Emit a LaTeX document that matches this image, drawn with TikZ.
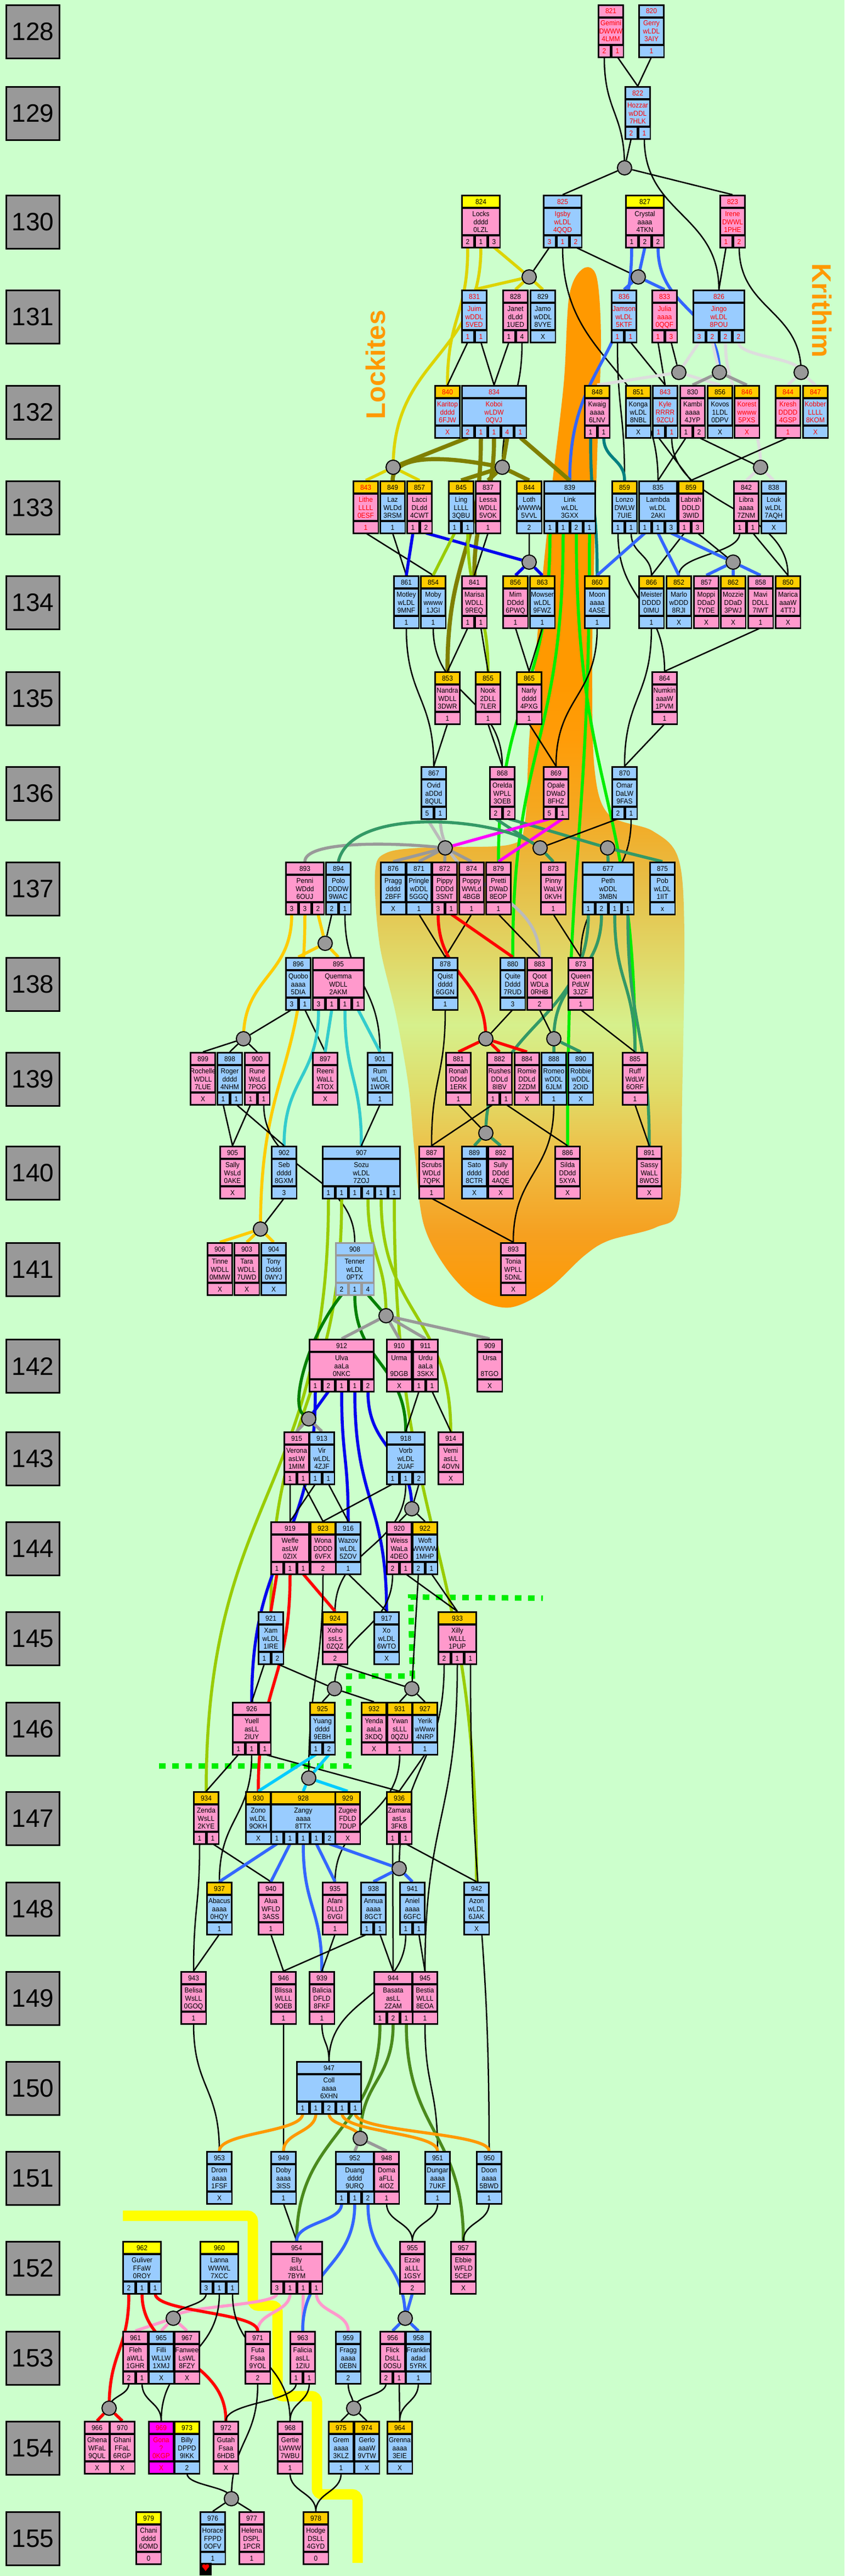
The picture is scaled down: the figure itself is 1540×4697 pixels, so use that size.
\documentclass[tikz,border=0pt]{standalone}
\usepackage{fontspec}
\setmainfont{Liberation Sans}
\newfontfamily\cardfont[FakeStretch=0.92]{Liberation Sans}
\usetikzlibrary{calc}

\definecolor{bgc}{HTML}{CCFFCC}
\definecolor{cpk}{HTML}{FF99CC}
\definecolor{cbl}{HTML}{99CCFF}
\definecolor{cyl}{HTML}{FFFF00}
\definecolor{cgd}{HTML}{FFCC00}
\definecolor{cmg}{HTML}{FF00FF}
\definecolor{yrgray}{HTML}{999999}
\definecolor{ungray}{HTML}{999999}
\definecolor{lkyel}{HTML}{DDD400}
\definecolor{lolive}{HTML}{808000}
\definecolor{lblueA}{HTML}{3366FF}
\definecolor{lblueB}{HTML}{0000EE}
\definecolor{lgreen}{HTML}{00EE00}
\definecolor{lteal}{HTML}{008080}
\definecolor{lsea}{HTML}{339966}
\definecolor{llgray}{HTML}{DDDDDD}
\definecolor{lgray}{HTML}{999999}
\definecolor{lsilver}{HTML}{BBBBBB}
\definecolor{lmag}{HTML}{FF00FF}
\definecolor{lgold}{HTML}{FFCC00}
\definecolor{lygreen}{HTML}{99CC00}
\definecolor{lcyanA}{HTML}{33CCCC}
\definecolor{lcyanB}{HTML}{00CCFF}
\definecolor{lred}{HTML}{FF0000}
\definecolor{ldgreen}{HTML}{008000}
\definecolor{logreen}{HTML}{4A8A1C}
\definecolor{lorange}{HTML}{FF9900}
\definecolor{lpink}{HTML}{FF99CC}
\definecolor{tribeor}{HTML}{FF9900}
\definecolor{dotgreen}{HTML}{00EE00}
\definecolor{bo1}{HTML}{FF9900}
\definecolor{bo2}{HTML}{F6A020}
\definecolor{bo3}{HTML}{EEC048}
\definecolor{bo4}{HTML}{E0DC68}
\definecolor{bo5}{HTML}{D6F08C}
\definecolor{bo6}{HTML}{E0D868}
\definecolor{bo7}{HTML}{E8BC44}
\definecolor{bo8}{HTML}{F5A820}
\definecolor{bo9}{HTML}{FF9C08}

\pgfdeclareverticalshading{blobsh}{100bp}{color(0bp)=(bo1); color(25bp)=(bo1); color(28.6bp)=(bo2); color(32.5bp)=(bo3); color(35.4bp)=(bo4); color(38.6bp)=(bo5); color(41.8bp)=(bo6); color(45.7bp)=(bo7); color(48.9bp)=(bo8); color(52.3bp)=(bo9); color(55bp)=(bo1); color(100bp)=(bo1)}

\pgfdeclarelayer{blob}
\pgfdeclarelayer{wires}
\pgfsetlayers{blob,wires,main}

\tikzset{
  wire/.style={line width=2.5pt,black},
  lin/.style={line width=5.5pt,draw=#1},
  fat/.style={line width=7.5pt,draw=#1},
  vv/.style={to path={.. controls ($(\tikztostart)!0.5!(\tikztostart|-\tikztotarget)$)
     and ($(\tikztotarget)!0.5!(\tikztotarget|-\tikztostart)$) .. (\tikztotarget.center)}},
  uni/.style={circle,draw=black,line width=2pt,fill=ungray,minimum size=26pt,inner sep=0pt},
  yearbox/.style={draw=black,line width=3pt,fill=yrgray,minimum width=97pt,minimum height=97pt,inner sep=0pt,font=\fontsize{46}{46}\selectfont},
  ctxt/.style={inner sep=0pt,anchor=base,font=\cardfont\fontsize{13}{13}\selectfont},
  tribe/.style={text=tribeor,inner sep=0pt,font=\fontsize{49}{49}\selectfont\bfseries},
}

% one card: [opts]{name}{x}{year}{number}{line 2}{line 3}{cells}
\newcount\ncell
\pgfkeys{/card/.cd,
  h/.store in=\cH, b/.store in=\cB, c/.store in=\cC, t/.store in=\cT, e/.store in=\cE}
\newcommand\card[8][]{%
  \def\cH{}\def\cB{cbl}\def\cC{}\def\cT{black}\def\cE{black}%
  \pgfkeys{/card/.cd,#1}%
  \ifx\cH\empty\let\cH\cB\fi
  \ifx\cC\empty\let\cC\cB\fi
  \global\ncell=0
  \foreach \q in {#8} {\global\advance\ncell by 1}%
  \pgfmathsetmacro\cw{24*max(2,\the\ncell)}%
  \pgfmathsetmacro\cu{\cw/\the\ncell}%
  \edef\cy{\csname yr#4\endcsname}%
  \fill[\cE] (#3,\cy) rectangle ({#3+\cw},{\cy+98});
  \fill[\cH] ({#3+3},{\cy+3}) rectangle ({#3+\cw-3},{\cy+22});
  \fill[\cB] ({#3+3},{\cy+26}) rectangle ({#3+\cw-3},{\cy+72});
  \node[ctxt,text=\cT] at ({#3+\cw/2},{\cy+17}) {#5};
  \node[ctxt,text=\cT] at ({#3+\cw/2},{\cy+39}) {#2};
  \node[ctxt,text=\cT] at ({#3+\cw/2},{\cy+54}) {#6};
  \node[ctxt,text=\cT] at ({#3+\cw/2},{\cy+68}) {#7};
  \coordinate (#2) at ({#3+\cw/2},\cy);
  \foreach \q [count=\i] in {#8} {%
    \fill[\cC] ({#3+(\i-1)*\cu+2.5},{\cy+76}) rectangle ({#3+\i*\cu-2.5},{\cy+95});
    \node[ctxt,text=\cT] at ({#3+(\i-0.5)*\cu},{\cy+90}) {\q};
    \coordinate (#2-\i) at ({#3+(\i-0.5)*\cu},{\cy+96});
  }%
}

\begin{document}
\begin{tikzpicture}[x=1pt,y=-1pt]
%%%%% START %%%%%
\useasboundingbox (0,0) rectangle (1540,4697);

\begin{pgfonlayer}{blob}
  \fill[bgc] (0,0) rectangle (1540,4697);
  \shade[shading=blobsh] plot[smooth cycle,tension=0.55] coordinates {
    (1063,490) (1088,505) (1096,620) (1090,800) (1084,1000) (1080,1200) (1084,1400)
    (1110,1485) (1190,1515) (1237,1565) (1248,1700) (1244,2000) (1238,2200) (1196,2238)
    (1110,2262) (1065,2290) (1000,2350) (930,2384) (865,2365) (812,2310) (772,2230)
    (756,2100) (745,1980) (722,1850) (692,1720) (684,1590) (705,1555) (780,1545)
    (930,1540) (957,1500) (965,1350) (985,1100) (1005,900) (1028,700) (1038,540)};
  \draw[cyl,line width=19pt,rounded corners=10pt] (224,4040) -- (461,4040) -- (461,4204)
    -- (506,4204) -- (506,4369) -- (578,4369) -- (578,4548) -- (652,4548) -- (652,4673);
  \draw[dotgreen,line width=10pt,dash pattern=on 12pt off 12pt] (290,3220) -- (636,3220)
    -- (636,3056) -- (752,3056) -- (749,2912) -- (990,2914);
\end{pgfonlayer}

% year column
\foreach \yy/\yt in {128/8,129/157,130/355,131/528,132/702,133/876,134/1049,135/1224,
  136/1397,137/1571,138/1745,139/1918,140/2089,141/2265,142/2441,143/2610,144/2774,
  145/2938,146/3103,147/3266,148/3431,149/3594,150/3758,151/3922,152/4086,153/4250,
  154/4414,155/4579} {
  \expandafter\xdef\csname yr\yy\endcsname{\yt}
  \node[yearbox] (y\yy) at (60,\yt+50) {\yy};
}

\node[tribe,rotate=90] (lockites) at (685,665) {Lockites};
\node[tribe,rotate=-90] (krithim) at (1499,566) {Krithim};

% 128 - 131
\card[b=cpk,t=red]{Gemini}{1090}{128}{821}{DWWW}{4LMM}{2,1}
\card[t=red]{Gerry}{1164}{128}{820}{wLDL}{3AIY}{1}
\card[t=red]{Hozzar}{1139}{129}{822}{wDDL}{7HLK}{2,1}
\card[h=cyl,b=cpk]{Locks}{841}{130}{824}{dddd}{0LZL}{2,1,3}
\card[t=red]{Igsby}{990}{130}{825}{wLDL}{4QQD}{3,1,2}
\card[h=cyl,b=cpk]{Crystal}{1140}{130}{827}{aaaa}{4TKN}{1,2,2}
\card[b=cpk,t=red]{Irene}{1312}{130}{823}{DWWL}{1PHE}{1,2}
\card[t=red]{Juim}{841}{131}{831}{wDDL}{5VED}{1,1}
\card[b=cpk]{Janet}{916}{131}{828}{dLdd}{1UED}{1,4}
\card{Jamo}{966}{131}{829}{wDDL}{8VYE}{X}
\card[t=red]{Jamson}{1114}{131}{836}{wLDL}{5KTF}{1,1}
\card[b=cpk,t=red]{Julia}{1188}{131}{833}{aaaa}{0QQF}{1,3}
\card[t=red]{Jingo}{1263}{131}{826}{wLDL}{8POU}{3,2,2,2}
% 132
\card[h=cgd,t=red]{Karitop}{792}{132}{840}{dddd}{6FJW}{X}
\card[t=red]{Koboi}{841}{132}{834}{wLDW}{0QVJ}{2,1,1,4,1}
\card[h=cgd,b=cpk]{Kwaig}{1065}{132}{848}{aaaa}{6LNV}{1,1}
\card[h=cgd]{Konga}{1140}{132}{851}{wLDL}{8NBL}{X}
\card[t=red]{Kyle}{1189}{132}{843}{RRRR}{9ZCU}{1,1}
\card[b=cpk]{Kambi}{1239}{132}{830}{aaaa}{4JYP}{1,2}
\card[h=cgd]{Kovos}{1289}{132}{856}{1LDL}{0DPV}{X}
\card[h=cgd,b=cpk,t=red]{Korest}{1338}{132}{846}{wwww}{5PXS}{X}
\card[h=cgd,b=cpk,t=red]{Kresh}{1413}{132}{844}{DDDD}{4GSP}{1}
\card[h=cgd,t=red]{Kobber}{1463}{132}{847}{LLLL}{8KOM}{X}
% 133
\card[h=cgd,b=cpk,t=red]{Lithe}{643}{133}{843}{LLLL}{0ESF}{1}
\card[h=cgd]{Laz}{692}{133}{849}{WLDd}{3RSM}{1}
\card[h=cgd,b=cpk]{Lacci}{741}{133}{857}{DLdd}{4CWT}{1,2}
\card[h=cgd]{Ling}{817}{133}{845}{LLLL}{3QBU}{1,1}
\card[b=cpk]{Lessa}{866}{133}{837}{WDLL}{5VOK}{1}
\card[h=cgd]{Loth}{941}{133}{844}{WWWW}{5VVL}{2}
\card{Link}{991}{133}{839}{wLDL}{3GXX}{1,1,2,1}
\card[h=cgd]{Lonzo}{1115}{133}{859}{DWLW}{7UIE}{1,1}
\card{Lambda}{1164}{133}{835}{wLDL}{2AKI}{1,1,3}
\card[h=cgd,b=cpk]{Labrah}{1236}{133}{859}{DDLD}{3WID}{1,3}
\card[b=cpk]{Libra}{1337}{133}{842}{aaaa}{7ZNM}{1,1}
\card{Louk}{1387}{133}{838}{wLDL}{7AQH}{X}
% 134
\card{Motley}{717}{134}{861}{wLDL}{9MNF}{1}
\card[h=cgd]{Moby}{766}{134}{854}{wwww}{1JGI}{1}
\card[b=cpk]{Marisa}{841}{134}{841}{WDLL}{9REQ}{1,1}
\card[h=cgd,b=cpk]{Mim}{916}{134}{856}{DDdd}{6PWQ}{1}
\card[h=cgd]{Mowser}{965}{134}{863}{wLDL}{9FWZ}{1}
\card[h=cgd]{Moon}{1065}{134}{860}{aaaa}{4ASE}{1}
\card[h=cgd]{Meister}{1164}{134}{866}{DDDD}{0IMU}{1}
\card[h=cgd]{Marlo}{1214}{134}{852}{wDDD}{8RJI}{X}
\card[b=cpk]{Moppi}{1264}{134}{857}{DDaD}{7YDE}{X}
\card[h=cgd,b=cpk]{Mozzie}{1313}{134}{862}{DDaD}{3PWJ}{X}
\card[b=cpk]{Mavi}{1363}{134}{858}{DDLL}{7IWT}{1}
\card[h=cgd,b=cpk]{Marica}{1413}{134}{850}{aaaW}{4TTJ}{X}
% 135 - 136
\card[h=cgd,b=cpk]{Nandra}{792}{135}{853}{WDLL}{3DWR}{1}
\card[h=cgd,b=cpk]{Nook}{866}{135}{855}{2DLL}{7LER}{1}
\card[h=cgd,b=cpk]{Narly}{941}{135}{865}{dddd}{4PXG}{1}
\card[b=cpk]{Numkin}{1188}{135}{864}{aaaW}{1PVM}{1}
\card{Ovid}{767}{136}{867}{aDDd}{8QUL}{5,1}
\card[b=cpk]{Orelda}{892}{136}{868}{WPLL}{3OEB}{2,2}
\card[b=cpk]{Opale}{990}{136}{869}{DWaD}{8FHZ}{5,1}
\card{Omar}{1115}{136}{870}{DaLW}{9FAS}{2,1}
% 137
\card[b=cpk]{Penni}{520}{137}{893}{WDdd}{6OUJ}{3,3,2}
\card{Polo}{593}{137}{894}{DDDW}{9WAC}{2,1}
\card{Pragg}{693}{137}{876}{dddd}{2BFF}{X}
\card{Pringle}{740}{137}{871}{wDDL}{5GGQ}{1}
\card[b=cpk]{Pippy}{787}{137}{872}{DDDd}{3SNT}{3,1}
\card[b=cpk]{Poppy}{836}{137}{874}{WWLd}{4BGB}{1}
\card[b=cpk]{Pretti}{885}{137}{879}{DWaD}{8EOP}{1}
\card[b=cpk]{Pinny}{985}{137}{873}{WaLW}{0KVH}{1}
\card{Peth}{1061}{137}{677}{wDDL}{3MBN}{1,2,1,1}
\card{Pob}{1184}{137}{875}{wLDL}{1IIT}{x}
% 138
\card{Quobo}{520}{138}{896}{aaaa}{5DIA}{3,1}
\card[b=cpk]{Quemma}{569}{138}{895}{WDLL}{2AKM}{3,1,1,1}
\card{Quist}{788}{138}{878}{dddd}{6GGN}{1}
\card{Quite}{911}{138}{880}{Dddd}{7RUD}{3}
\card[b=cpk]{Qoot}{960}{138}{883}{WDLa}{0RHB}{2}
\card[b=cpk]{Queen}{1035}{138}{873}{PdLW}{3JZF}{1}
% 139
\card[b=cpk]{Rochelle}{346}{139}{899}{WDLL}{7LUE}{X}
\card{Roger}{395}{139}{898}{dddd}{4NHM}{1,1}
\card[b=cpk]{Rune}{445}{139}{900}{WsLd}{7POG}{1,1}
\card[b=cpk]{Reeni}{569}{139}{897}{WaLL}{4TOX}{X}
\card{Rum}{669}{139}{901}{wLDL}{1WOR}{1}
\card[b=cpk]{Ronah}{812}{139}{881}{DDdd}{1ERK}{1}
\card[b=cpk]{Rushes}{887}{139}{882}{DDLd}{8IBV}{1,1}
\card[b=cpk]{Romie}{937}{139}{884}{DDLd}{2ZDM}{X}
\card{Romeo}{986}{139}{888}{wDDL}{6JLM}{1}
\card{Robbie}{1035}{139}{890}{wDDL}{2OID}{X}
\card[b=cpk]{Ruff}{1134}{139}{885}{WdLW}{6ORF}{1}
% 140 - 141
\card[b=cpk]{Sally}{400}{140}{905}{WsLd}{0AKE}{X}
\card{Seb}{494}{140}{902}{dddd}{8GXM}{3}
\card{Sozu}{587}{140}{907}{wLDL}{7ZOJ}{1,1,1,4,1,1}
\card[b=cpk]{Scrubs}{763}{140}{887}{WDLd}{7QPK}{1}
\card{Sato}{841}{140}{889}{dddd}{8CTR}{X}
\card[b=cpk]{Sully}{889}{140}{892}{DDdd}{4AQE}{X}
\card[b=cpk]{Silda}{1011}{140}{886}{DDdd}{5XYA}{X}
\card[b=cpk]{Sassy}{1160}{140}{891}{WaLL}{8WOS}{X}
\card[b=cpk]{Tinne}{377}{141}{906}{WDLL}{0MMW}{X}
\card[b=cpk]{Tara}{426}{141}{903}{WDLL}{7UWD}{X}
\card{Tony}{475}{141}{904}{Dddd}{0WYJ}{X}
\card[e=lgray]{Tenner}{611}{141}{908}{wLDL}{0PTX}{2,1,4}
\card[b=cpk]{Tonia}{912}{141}{893}{WPLL}{5DNL}{X}
% 142 - 143
\card[b=cpk]{Ulva}{563}{142}{912}{aaLa}{0NKC}{1,2,1,1,2}
\card[b=cpk]{Urma}{704}{142}{910}{}{9DGB}{X}
\card[b=cpk]{Urdu}{752}{142}{911}{aaLa}{3SKX}{1,1}
\card[b=cpk]{Ursa}{869}{142}{909}{}{8TGO}{X}
\card[b=cpk]{Verona}{517}{143}{915}{asLW}{1MIM}{1,1}
\card{Vir}{563}{143}{913}{wLDL}{4ZJF}{1,1}
\card{Vorb}{704}{143}{918}{wLDL}{2UAF}{1,1,2}
\card[b=cpk]{Vemi}{798}{143}{914}{asLL}{4OVN}{X}
% 144 - 145
\card[b=cpk]{Weffe}{493}{144}{919}{asLW}{0ZIX}{1,1,1}
\card[h=cgd,b=cpk]{Wona}{565}{144}{923}{DDDD}{6VFX}{2}
\card{Wazov}{611}{144}{916}{wLDL}{5ZOV}{1}
\card[b=cpk]{Weiss}{704}{144}{920}{WaLa}{4DEO}{2,1}
\card[h=cgd]{Woft}{751}{144}{922}{WWWW}{1MHP}{2,1}
\card{Xam}{470}{145}{921}{wLDL}{1IRE}{1,2}
\card[h=cgd,b=cpk]{Xoho}{587}{145}{924}{ssLs}{0ZQZ}{2}
\card{Xo}{681}{145}{917}{wLDL}{6WTO}{X}
\card[h=cgd,b=cpk]{Xilly}{798}{145}{933}{WLLL}{1PUP}{2,1,1}
% 146 - 147
\card[b=cpk]{Yuell}{423}{146}{926}{asLL}{2IUY}{1,1,1}
\card[h=cgd]{Yuang}{564}{146}{925}{dddd}{9EBH}{1,2}
\card[h=cgd,b=cpk]{Yenda}{658}{146}{932}{aaLa}{3KDQ}{X}
\card[h=cgd,b=cpk]{Ywan}{705}{146}{931}{sLLL}{0QZU}{1}
\card[h=cgd]{Yerik}{751}{146}{927}{wWww}{4NRP}{1}
\card[h=cgd,b=cpk]{Zenda}{352}{147}{934}{WsLL}{2KYE}{1,1}
\card[h=cgd]{Zono}{447}{147}{930}{wLDL}{9OKH}{X}
\card[h=cgd]{Zangy}{493}{147}{928}{aaaa}{8TTX}{1,1,1,1,2}
\card[h=cgd,b=cpk]{Zugee}{610}{147}{929}{FDLD}{7DUP}{X}
\card[h=cgd,b=cpk]{Zamara}{704}{147}{936}{asLs}{3FKB}{1,1}
% 148 - 149
\card[h=cgd]{Abacus}{376}{148}{937}{aaaa}{0HQY}{1}
\card[b=cpk]{Alua}{470}{148}{940}{WFLD}{3ASS}{1}
\card[b=cpk]{Afani}{587}{148}{935}{DLLD}{6VGI}{1}
\card{Annua}{657}{148}{938}{aaaa}{8GCT}{1,1}
\card{Aniel}{728}{148}{941}{aaaa}{6GFC}{1,1}
\card{Azon}{845}{148}{942}{wLDL}{6JAK}{X}
\card[b=cpk]{Belisa}{329}{149}{943}{WsLL}{0GOQ}{1}
\card[b=cpk]{Blissa}{493}{149}{946}{WLLL}{9OEB}{1}
\card[b=cpk]{Balicia}{563}{149}{939}{DFLD}{8FKF}{1}
\card[b=cpk]{Basata}{681}{149}{944}{asLL}{2ZAM}{1,2,1}
\card[b=cpk]{Bestia}{751}{149}{945}{WLLL}{8EOA}{1}
% 150 - 151
\card{Coll}{540}{150}{947}{aaaa}{6XHN}{1,1,2,1,1}
\card{Drom}{376}{151}{953}{aaaa}{1FSF}{X}
\card{Doby}{493}{151}{949}{aaaa}{3ISS}{1}
\card{Duang}{611}{151}{952}{dddd}{9URQ}{1,1,2}
\card[b=cpk]{Doma}{681}{151}{948}{aFLL}{4IOZ}{1}
\card{Dungar}{774}{151}{951}{aaaa}{7UKF}{1}
\card{Doon}{868}{151}{950}{aaaa}{5BWD}{1}
% 152 - 153
\card[h=cyl]{Guliver}{223}{152}{962}{FFaW}{0ROY}{2,1,1}
\card[h=cyl]{Lanna}{364}{152}{960}{WWWL}{7XCC}{3,1,1}
\card[b=cpk]{Elly}{493}{152}{954}{asLL}{7BYM}{3,1,1,1}
\card[b=cpk]{Ezzie}{728}{152}{955}{aLLL}{1GSY}{2}
\card[b=cpk]{Ebbie}{821}{152}{957}{WFLD}{5CEP}{X}
\card[b=cpk]{Fleh}{223}{153}{961}{aWLL}{1GHR}{2,1}
\card{Filli}{270}{153}{965}{WLLW}{1XMJ}{X}
\card[b=cpk]{Fanwee}{317}{153}{967}{LsWL}{8FZY}{X}
\card[b=cpk]{Futa}{446}{153}{971}{Fsaa}{9YOL}{2}
\card[b=cpk]{Falicia}{528}{153}{963}{asLL}{1ZIU}{1,1}
\card{Fragg}{611}{153}{959}{aaaa}{0EBN}{2}
\card[b=cpk]{Flick}{692}{153}{956}{DsLL}{0OSU}{2,1}
\card{Franklin}{739}{153}{958}{adad}{5YRK}{1}
% 154 - 155
\card[b=cpk]{Ghena}{153}{154}{966}{WFaL}{9QUL}{X}
\card[b=cpk]{Ghani}{199}{154}{970}{FFaL}{6RGP}{X}
\card[b=cmg,t=red]{Gona}{270}{154}{969}{?}{0KGP}{X}
\card[h=cyl]{Billy}{317}{154}{973}{DPPD}{9IKK}{2}
\card[b=cpk]{Gutah}{388}{154}{972}{Fsaa}{6HDB}{X}
\card[b=cpk]{Gertie}{505}{154}{968}{LWWW}{7WBU}{1}
\card[h=cgd]{Grem}{598}{154}{975}{aaaa}{3KLZ}{1}
\card[h=cgd]{Gerlo}{645}{154}{974}{aaaW}{9VTW}{X}
\card[h=cgd]{Grenna}{705}{154}{964}{aaaa}{3EIE}{X}
\card[h=cyl,b=cpk]{Chani}{247}{155}{979}{dddd}{6OMD}{0}
\card{Horace}{364}{155}{976}{FPPD}{0OFV}{1}
\card[b=cpk]{Helena}{435}{155}{977}{DSPL}{1PCR}{1}
\card[h=cgd,b=cpk]{Hodge}{552}{155}{978}{DSLL}{4GYD}{0}

\fill[black] (364,4673) rectangle (386,4696);
\fill[red] (372,4679) circle (3.5) (378,4679) circle (3.5);
\fill[red] (369,4680) -- (381,4680) -- (375,4688) -- cycle;

% unions
\foreach \un/\ux/\uy in {u1/1139/306, u2/965/505, u3/1164/505, u4/1238/679, u5/1312/679,
  u6/1461/679, u7/717/852, u8/916/852, u9/1387/852, u10/965/1025, u11/1337/1025,
  u12/812/1546, u13/985/1546, u14/1108/1546, u15/593/1720, u16/444/1894, u18/886/1894,
  u20/1010/1894, u19/886/2066, u17/475/2241, u21/704/2399, u22/563/2587, u23/751/2751,
  u25/610/3079, u26/751/3079, u24/563/3242, u27/728/3407, u28/657/3899, u31/316/4227,
  u29/739/4227, u30/199/4391, u33/645/4391, u32/422/4556}
  \node[uni] (\un) at (\ux,\uy) {};

\begin{pgfonlayer}{wires}
% 128 - 131
\draw[wire] (Gemini-1) to[vv] (u1) (Hozzar-1) -- (u1) (Gemini-2) -- (Hozzar) (Gerry-1) -- (Hozzar);
\draw[wire] (Hozzar-2) to[vv] (Jingo) (u1) -- (Igsby) (u1) -- (Irene);
\draw[lin=lkyel] (Locks-1) to[vv] (Karitop) (Locks-2) to[vv] (u7) (Locks-3) -- (u2);
\draw[lin=lkyel] (u2) -- (Juim) (u2) -- (Janet) (u2) -- (Jamo);
\draw[wire] (Igsby-1) -- (u2) (Igsby-2) to[vv] (Lambda) (Igsby-3) -- (u3);
\draw[lin=lblueA] (Crystal-1) to[vv] (Link) (Crystal-2) -- (u3) (Crystal-3) to[vv] (u5);
\draw[lin=lblueA] (u3) -- (Jamson) (u3) -- (Julia);
\draw[wire] (Irene-1) -- (Jingo) (Irene-2) to[vv] (u6);
\draw[wire] (Juim-1) -- (Karitop) (Juim-2) -- (Koboi) (Janet-1) -- (Koboi) (Janet-2) to[vv] (u8);
\draw[wire] (Jamson-1) to[vv] (Lonzo) (Jamson-2) -- (Kyle) (Julia-1) -- (Kyle) (Julia-2) -- (u4);
\draw[lin=llgray] (Jingo-1) -- (u4) (Jingo-2) -- (u5) (Jingo-3) to[vv] (u9) (Jingo-4) to[vv] (u6);
\draw[lin=llgray] (u4) -- (Kwaig) (u4) -- (Kovos) (u6) -- (Kresh) (u6) -- (Kobber);
\draw[lin=lgray] (u5) -- (Kambi) (u5) -- (Korest);
% 132 - 133
\draw[fat=lolive] (Koboi-1) -- (u7) (Koboi-2) to[vv] (Nandra) (Koboi-3) to[vv] (Marisa)
  (Koboi-4) -- (u8) (Koboi-5) -- (Link);
\draw[lin=lkyel] (u7) -- (Lithe) (u7) -- (Lacci);
\draw[fat=lolive] (u8) .. controls (800,830) and (716,830) .. (Laz) (u8) -- (Ling)
  (u8) -- (Lessa) (u8) -- (Loth);
\draw[lin=lteal] (Kwaig-1) to[vv] (Moon) (Kwaig-2) to[vv] (Lonzo);
\draw[wire] (Kyle-1) -- (Labrah) (Kambi-1) -- (Lambda) (Kambi-2) -- (u9) (Kresh-1) -- (Labrah)
  (Kyle-2) to[vv] (Marica);
\draw[lin=llgray] (u9) -- (Libra) (u9) -- (Louk);
% 133 - 134
\draw[wire] (Lithe-1) -- (Moby) (Laz-1) -- (Motley) (Lessa-1) -- (Marisa) (Loth-1) -- (u10);
\draw[lin=lblueB] (Lacci-1) -- (Motley) (Lacci-2) -- (u10) (u10) -- (Mim) (u10) -- (Mowser);
\draw[lin=lygreen] (Ling-1) -- (Moby) (Ling-2) to[vv] (Nook);
\draw[lin=lgreen] (Link-1) to[vv] (Pretti) (Link-2) to[vv] (Quite) (Link-3) to[vv] (Ruff)
  (Link-4) to[vv] (Silda);
\draw[wire] (Lonzo-1) to[vv] (Numkin) (Lonzo-2) to[vv] (Meister) (Labrah-1) -- (Meister)
  (Labrah-2) -- (u11) (Libra-1) to[vv] (Marlo) (Libra-2) -- (Marica) (Mavi-1) -- (Numkin);
\draw[lin=lblueA] (Lambda-1) -- (Moon) (Lambda-2) -- (Marlo) (Lambda-3) -- (u11);
\draw[lin=lblueA] (u11) -- (Moppi) (u11) -- (Mozzie) (u11) -- (Mavi);
% 134 - 136
\draw[wire] (Motley-1) to[vv] (Ovid) (Moby-1) to[vv] (Orelda) (Marisa-1) -- (Nandra)
  (Marisa-2) -- (Nook) (Mim-1) -- (Narly) (Mowser-1) -- (Narly) (Moon-1) to[vv] (Opale)
  (Meister-1) to[vv] (Omar);
\draw[wire] (Nandra-1) -- (Ovid) (Nook-1) -- (Orelda) (Narly-1) -- (Opale) (Numkin-1) -- (Omar);
% 136 - 137
\draw[lin=lsilver] (Ovid-1) -- (u12) (Ovid-2) to[vv] (Qoot);
\draw[lin=lsea] (Orelda-1) -- (u13) (Orelda-2) -- (u14);
\draw[lin=lmag] (Opale-1) -- (u12) (Opale-2) -- (Pretti);
\draw[wire] (Omar-1) -- (u13) (Omar-2) to[vv] (Queen);
\draw[lin=lgray] (u12) .. controls (700,1535) and (556,1535) .. (Penni) (u12) -- (Pragg)
  (u12) -- (Pringle) (u12) -- (Pippy) (u12) -- (Poppy);
\draw[lin=lsea] (u13) -- (Pinny) (u13) .. controls (900,1490) and (640,1470) .. (Polo)
  (u14) -- (Peth) (u14) -- (Pob);
% 137 - 138
\draw[lin=lgold] (Penni-1) to[vv] (u16) (Penni-2) to[vv] (u17) (Penni-3) -- (u15);
\draw[lin=lgold] (u15) -- (Quobo) (u15) -- (Quemma);
\draw[wire] (Polo-1) -- (u15) (Polo-2) to[vv] (Rum) (Pringle-1) -- (Quist) (Poppy-1) -- (Quist)
  (Pretti-1) -- (Qoot) (Pinny-1) -- (Queen);
\draw[lin=lred] (Pippy-1) to[vv] (u18) (Pippy-2) -- (Quite);
\draw[lin=lsea] (Peth-1) to[vv] (u19) (Peth-2) to[vv] (u20) (Peth-3) to[vv] (Ruff)
  (Peth-4) to[vv] (Sassy);
% 138 - 139
\draw[wire] (Quobo-1) -- (u16) (Quobo-2) -- (Reeni) (u16) -- (Rochelle) (u16) -- (Roger)
  (u16) -- (Rune) (Quist-1) to[vv] (Scrubs) (Quite-1) -- (u18) (Qoot-1) -- (u20)
  (Queen-1) -- (Ruff);
\draw[lin=lcyanA] (Quemma-1) to[vv] (Seb) (Quemma-2) -- (Reeni) (Quemma-3) to[vv] (Sozu)
  (Quemma-4) -- (Rum);
\draw[lin=lred] (u18) -- (Ronah) (u18) -- (Rushes) (u18) -- (Romie);
\draw[lin=lsea] (u20) -- (Romeo) (u20) -- (Robbie) (u19) -- (Sato) (u19) -- (Sully);
% 139 - 141
\draw[wire] (Roger-1) -- (Sally) (Roger-2) -- (Seb) (Rune-1) -- (Sally) (Rune-2) to[vv] (Tenner)
  (Rum-1) -- (Sozu) (Ronah-1) -- (u19) (Rushes-1) -- (Scrubs) (Rushes-2) -- (Silda)
  (Romeo-1) to[vv] (Tonia) (Ruff-1) -- (Sassy) (Seb-1) -- (u17) (Scrubs-1) -- (Tonia);
\draw[lin=lgold] (u17) -- (Tinne) (u17) -- (Tara) (u17) -- (Tony);
\draw[lin=lygreen] (Sozu-1) to[vv] (Zenda) (Sozu-2) to[vv] (Xam) (Sozu-4) to[vv] (u21)
  (Sozu-5) to[vv] (Vemi) (Sozu-6) to[vv] (Azon);
\draw[lin=ldgreen] (Tenner-1) .. controls (560,2440) and (530,2560) .. (u22)
  (Tenner-2) to[vv] (Vorb) (Tenner-3) -- (u21);
\draw[lin=lgray] (u21) -- (Ulva) (u21) -- (Urma) (u21) -- (Urdu) (u21) -- (Ursa);
% 142 - 144
\draw[lin=lblueB] (Ulva-1) to[vv] (Yuell) (Ulva-2) -- (u22) (Ulva-3) to[vv] (Wazov)
  (Ulva-4) to[vv] (Xo) (Ulva-5) to[vv] (u23);
\draw[lin=lgray] (u22) -- (Verona) (u22) -- (Vir);
\draw[wire] (Urdu-1) -- (Vorb) (Urdu-2) -- (Vemi) (Verona-1) -- (Weffe) (Verona-2) -- (Wona)
  (Vir-1) -- (Weffe) (Vir-2) -- (Wazov) (Vorb-1) -- (Wona) (Vorb-2) to[vv] (Xoho)
  (Vorb-3) -- (u23) (u23) -- (Weiss) (u23) -- (Woft);
% 144 - 146
\draw[lin=lred] (Weffe-1) -- (Xam) (Weffe-2) to[vv] (Zono) (Weffe-3) -- (Xoho);
\draw[wire] (Wona-1) to[vv] (u24) (Wazov-1) -- (Xo) (Weiss-1) to[vv] (u25) (Weiss-2) -- (Xilly)
  (Woft-1) -- (u26) (Woft-2) -- (Xilly);
\draw[wire] (Xam-1) -- (Yuell) (Xam-2) -- (u25) (Xoho-1) -- (u26) (u25) -- (Yuang)
  (u25) -- (Yenda) (u26) -- (Ywan) (u26) -- (Yerik);
\draw[wire] (Xilly-1) to[vv] (u27) (Xilly-2) to[vv] (Bestia) (Xilly-3) to[vv] (Doon);
% 146 - 148
\draw[wire] (Yuell-1) -- (Zenda) (Yuell-2) to[vv] (Abacus) (Yuell-3) -- (Zamara)
  (Ywan-1) to[vv] (Afani) (Yerik-1) -- (Zamara);
\draw[lin=lcyanB] (Yuang-1) -- (Zono) (Yuang-2) -- (u24) (u24) -- (Zangy) (u24) -- (Zugee);
\draw[wire] (Zenda-1) to[vv] (Belisa) (Zenda-2) -- (Alua) (Zamara-1) to[vv] (Basata)
  (Zamara-2) -- (Azon);
\draw[lin=lblueA] (Zangy-1) -- (Abacus) (Zangy-2) -- (Alua) (Zangy-3) to[vv] (Balicia)
  (Zangy-4) -- (Afani) (Zangy-5) -- (u27) (u27) -- (Annua) (u27) -- (Aniel);
% 148 - 151
\draw[wire] (Abacus-1) -- (Belisa) (Alua-1) -- (Blissa) (Afani-1) -- (Balicia)
  (Annua-1) -- (Blissa) (Annua-2) -- (Basata) (Aniel-1) to[vv] (Coll) (Aniel-2) -- (Bestia);
\draw[wire] (Belisa-1) to[vv] (Drom) (Blissa-1) -- (Doby) (Balicia-1) to[vv] (Coll)
  (Bestia-1) to[vv] (Dungar);
\draw[lin=logreen] (Basata-1) to[vv] (Elly) (Basata-2) to[vv] (u28) (Basata-3) to[vv] (Ebbie);
\draw[lin=lorange] (Coll-1) to[vv] (Drom) (Coll-2) to[vv] (Doby) (Coll-3) to[vv] (u28)
  (Coll-4) to[vv] (Dungar) (Coll-5) to[vv] (Doon);
\draw[lin=lgray] (u28) -- (Duang) (u28) -- (Doma);
% 151 - 153
\draw[wire] (Doby-1) -- (Elly) (Doma-1) to[vv] (Ezzie) (Dungar-1) to[vv] (Ezzie)
  (Doon-1) to[vv] (Ebbie);
\draw[lin=lpink] (Elly-1) to[vv] (u31) (Elly-2) to[vv] (Futa) (Elly-3) to[vv] (Falicia)
  (Elly-4) to[vv] (Fragg) (u31) -- (Fleh) (u31) -- (Filli) (u31) -- (Fanwee);
\draw[lin=lblueA] (Duang-1) to[vv] (Elly) (Duang-2) to[vv] (Falicia) (Duang-3) to[vv] (u29)
  (Ezzie-1) -- (u29) (u29) -- (Flick) (u29) -- (Franklin);
\draw[lin=lred] (Guliver-1) to[vv] (u30) (Guliver-2) to[vv] (Gutah) (Guliver-3) to[vv] (Futa)
  (u30) -- (Ghena) (u30) -- (Ghani);
\draw[wire] (Lanna-1) to[vv] (u31) (Lanna-2) to[vv] (Gona) (Lanna-3) to[vv] (Gertie);
% 153 - 155
\draw[wire] (Fleh-1) to[vv] (u30) (Fleh-2) to[vv] (Gona) (Futa-1) to[vv] (u32)
  (Falicia-1) to[vv] (Gutah) (Falicia-2) to[vv] (Gertie) (Fragg-1) to[vv] (u33)
  (Flick-1) to[vv] (u33) (Flick-2) -- (Grenna) (Franklin-1) to[vv] (Grenna)
  (u33) -- (Grem) (u33) -- (Gerlo);
\draw[wire] (Billy-1) to[vv] (u32) (Gertie-1) to[vv] (Hodge) (Grem-1) to[vv] (Hodge)
  (u32) -- (Horace) (u32) -- (Helena);
\end{pgfonlayer}
%%%%% END %%%%%
\end{tikzpicture}
\end{document}
